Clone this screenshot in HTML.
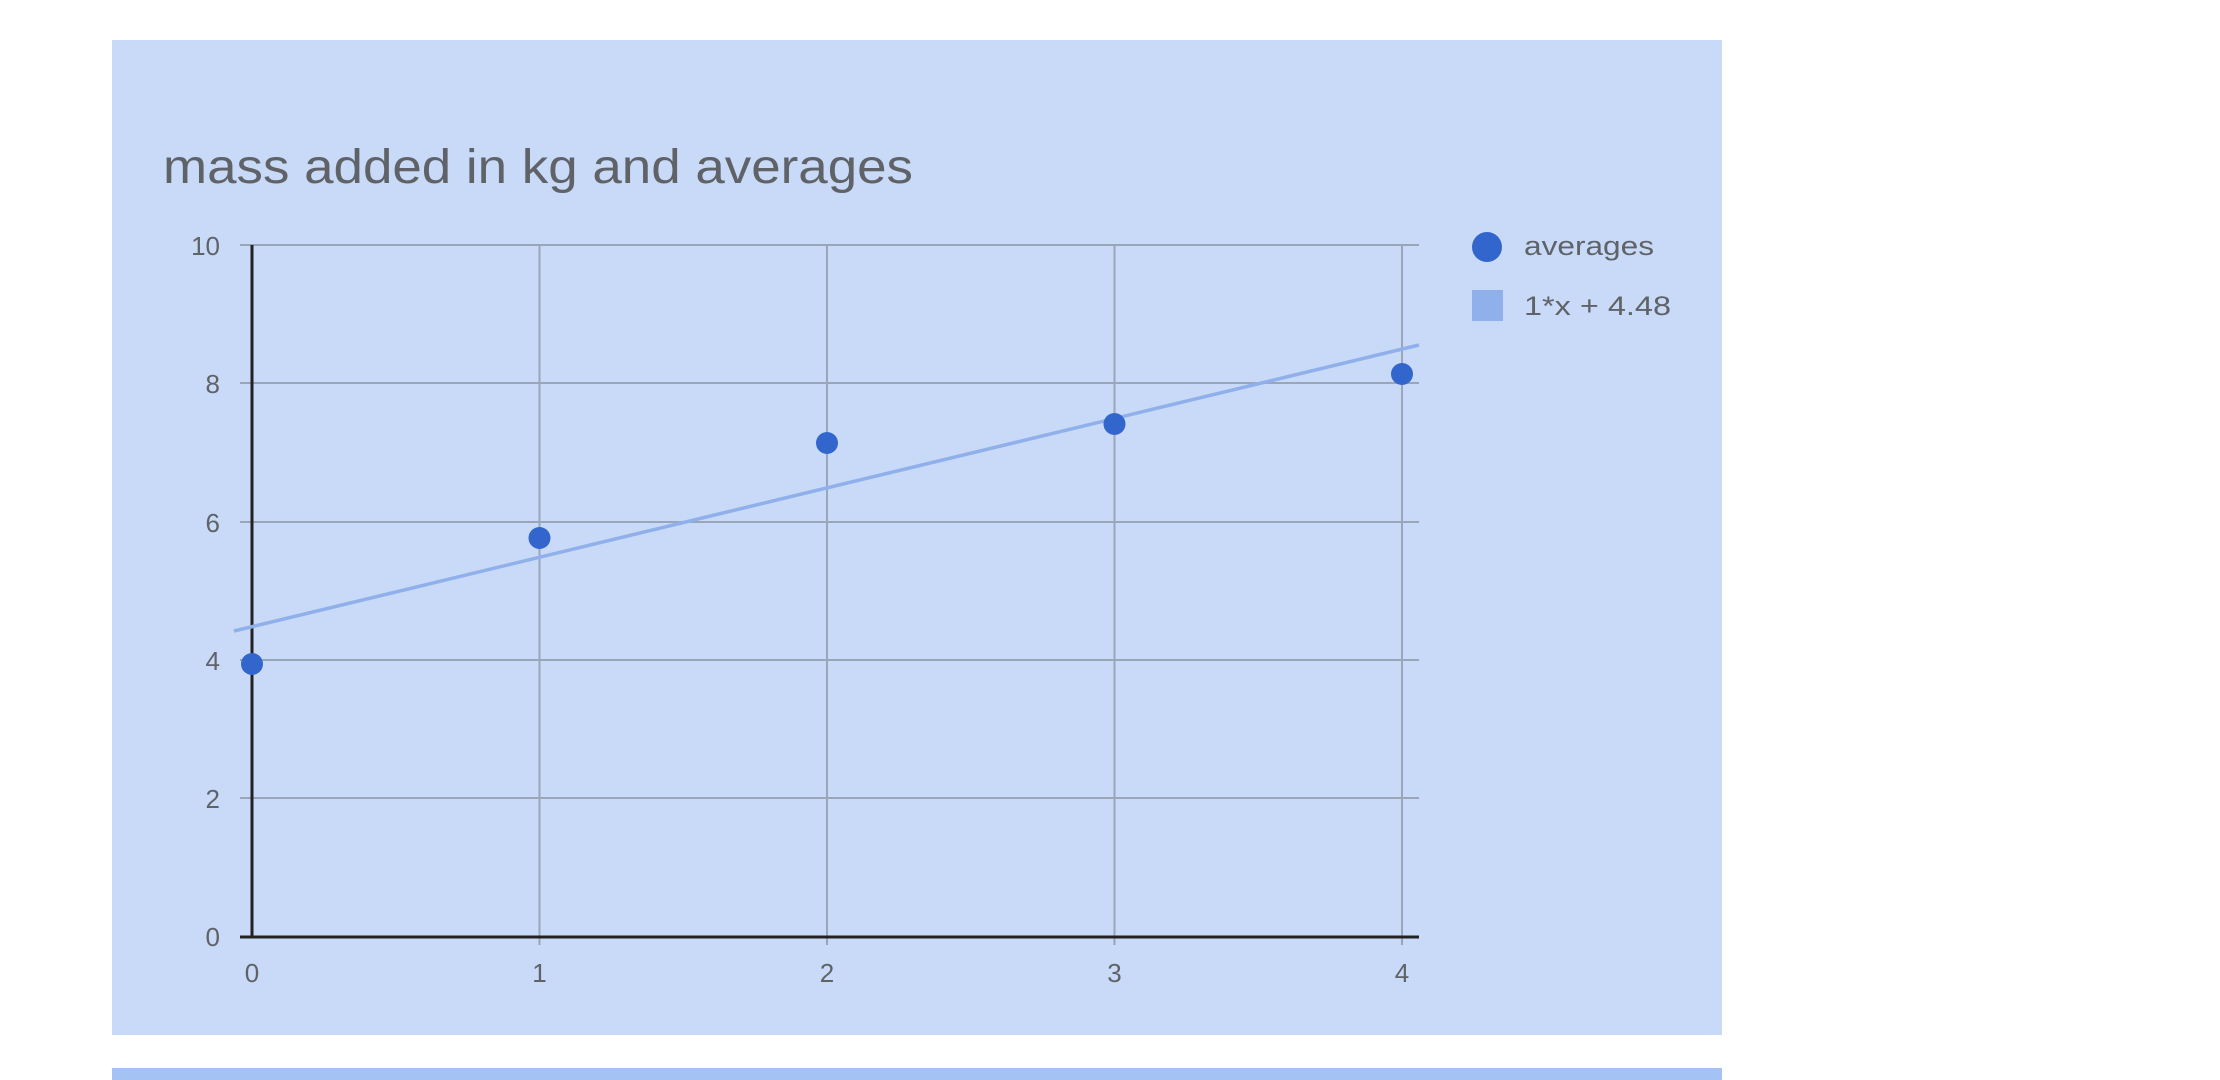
<!DOCTYPE html>
<html><head><style>
html,body{margin:0;padding:0;background:#fff;width:2220px;height:1080px;overflow:hidden}
svg{display:block}
text{font-family:"Liberation Sans",sans-serif}
</style></head><body>
<svg width="2220" height="1080" viewBox="0 0 2220 1080">
<rect x="112" y="40" width="1610" height="995" fill="#c9daf8"/>
<rect x="112" y="1068" width="1610" height="20" fill="#a4c2f4"/>
<text x="163" y="183" font-size="48" fill="#5f6368" textLength="750" lengthAdjust="spacingAndGlyphs">mass added in kg and averages</text>
<g stroke="#99a6b8" stroke-width="2">
<line x1="240" y1="245" x2="1419" y2="245"/>
<line x1="240" y1="383" x2="1419" y2="383"/>
<line x1="240" y1="522" x2="1419" y2="522"/>
<line x1="240" y1="660" x2="1419" y2="660"/>
<line x1="240" y1="798" x2="1419" y2="798"/>
<line x1="539.5" y1="245" x2="539.5" y2="945"/>
<line x1="827" y1="245" x2="827" y2="945"/>
<line x1="1114.5" y1="245" x2="1114.5" y2="945"/>
<line x1="1402" y1="245" x2="1402" y2="945"/>
</g>
<line x1="252" y1="245" x2="252" y2="937" stroke="#222" stroke-width="3"/>
<line x1="240" y1="937" x2="1419" y2="937" stroke="#222" stroke-width="3"/>
<g font-size="26" fill="#5f6368" text-anchor="end">
<text x="220" y="255">10</text>
<text x="220" y="393">8</text>
<text x="220" y="532">6</text>
<text x="220" y="670">4</text>
<text x="220" y="808">2</text>
<text x="220" y="946">0</text>
</g>
<g font-size="26" fill="#5f6368" text-anchor="middle">
<text x="252" y="982">0</text>
<text x="539.5" y="982">1</text>
<text x="827" y="982">2</text>
<text x="1114.5" y="982">3</text>
<text x="1402" y="982">4</text>
</g>
<line x1="234" y1="631" x2="1419" y2="345" stroke="#8fb0ea" stroke-width="3.5"/>
<g fill="#3366cc">
<circle cx="252" cy="664" r="11"/>
<circle cx="539.5" cy="538" r="11"/>
<circle cx="827" cy="443" r="11"/>
<circle cx="1114.5" cy="424" r="11"/>
<circle cx="1402" cy="374" r="11"/>
<circle cx="1487" cy="247" r="15"/>
</g>
<rect x="1472" y="290" width="31" height="31" fill="#8fb0ea"/>
<g font-size="27" fill="#5f6368">
<text x="1524" y="255" textLength="130" lengthAdjust="spacingAndGlyphs">averages</text>
<text x="1524" y="315" textLength="147" lengthAdjust="spacingAndGlyphs">1*x + 4.48</text>
</g>
</svg>
</body></html>
